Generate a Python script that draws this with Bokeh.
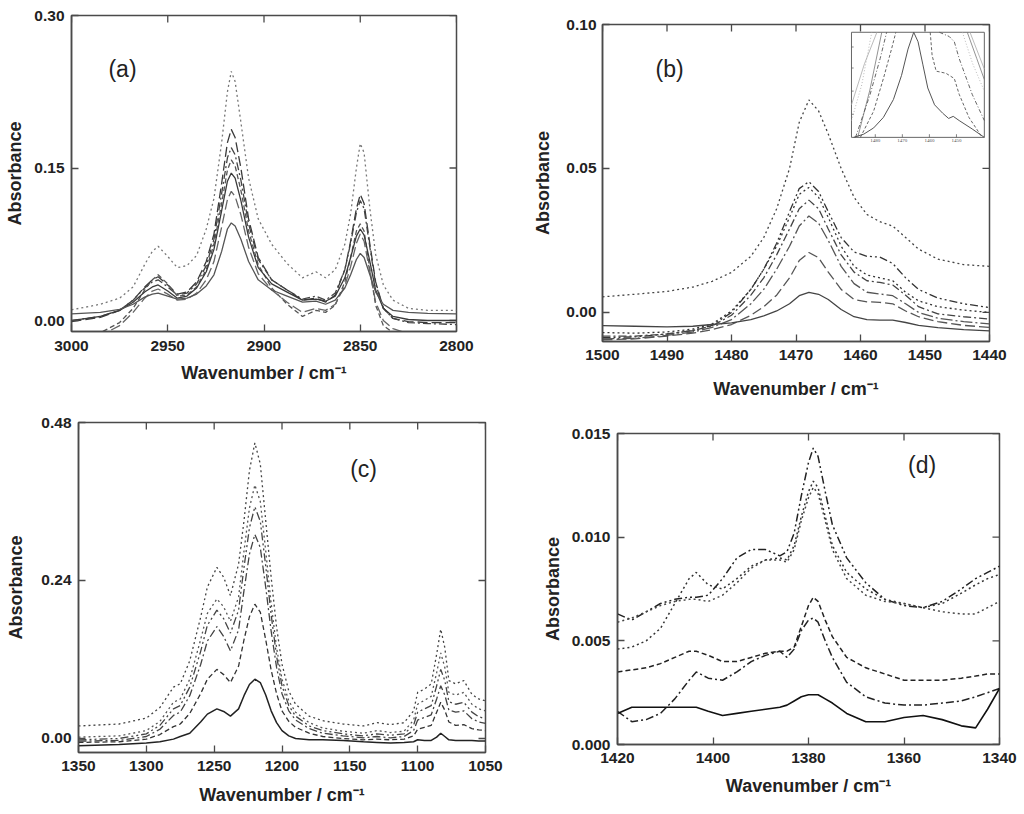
import numpy as np
from bokeh.plotting import figure
from bokeh.layouts import column, row
from bokeh.models import Range1d, FixedTicker, PrintfTickFormatter, Label
from bokeh.embed import file_html
from bokeh.resources import INLINE

# ---------------- datos ----------------

# (a) region C-H stretching
wn_a = [3000, 2985, 2975, 2968, 2962, 2958, 2955, 2950, 2945, 2940, 2935, 2930, 2926,
        2922, 2919, 2917, 2915, 2912, 2908, 2903, 2896, 2888, 2880, 2873, 2868, 2863,
        2858, 2855, 2852, 2850, 2848, 2845, 2842, 2838, 2833, 2825, 2815, 2800]
a1 = [0.0105, 0.016, 0.022, 0.033, 0.055, 0.068, 0.073, 0.063, 0.052, 0.054, 0.064, 0.090, 0.120,
      0.175, 0.225, 0.245, 0.235, 0.195, 0.140, 0.100, 0.075, 0.056, 0.042, 0.048, 0.042, 0.050,
      0.075, 0.105, 0.150, 0.174, 0.165, 0.110, 0.065, 0.035, 0.020, 0.012, 0.010, 0.010]
a2 = [-0.001, 0.003, 0.010, 0.020, 0.033, 0.040, 0.043, 0.035, 0.026, 0.028, 0.038, 0.058, 0.085,
      0.135, 0.175, 0.188, 0.180, 0.150, 0.100, 0.062, 0.040, 0.030, 0.020, 0.022, 0.018, 0.025,
      0.050, 0.078, 0.110, 0.124, 0.115, 0.075, 0.038, 0.012, 0.002, -0.001, -0.002, -0.002]
a3 = [0.000, 0.004, 0.010, 0.020, 0.032, 0.038, 0.040, 0.033, 0.025, 0.027, 0.036, 0.054, 0.080,
      0.125, 0.160, 0.170, 0.163, 0.138, 0.095, 0.060, 0.040, 0.030, 0.021, 0.024, 0.020, 0.027,
      0.050, 0.076, 0.106, 0.118, 0.110, 0.072, 0.036, 0.012, 0.002, -0.002, -0.003, -0.004]
a4 = [-0.016, -0.012, -0.002, 0.012, 0.030, 0.040, 0.045, 0.036, 0.024, 0.025, 0.033, 0.050, 0.075,
      0.115, 0.148, 0.158, 0.152, 0.128, 0.088, 0.055, 0.032, 0.016, 0.004, 0.010, 0.008, 0.015,
      0.038, 0.062, 0.088, 0.095, 0.088, 0.050, 0.015, -0.005, -0.012, -0.018, -0.020, -0.022]
a5 = [0.000, 0.004, 0.010, 0.018, 0.028, 0.033, 0.035, 0.029, 0.022, 0.024, 0.032, 0.048, 0.070,
      0.108, 0.137, 0.145, 0.140, 0.118, 0.082, 0.052, 0.036, 0.028, 0.020, 0.021, 0.019, 0.024,
      0.042, 0.062, 0.083, 0.090, 0.084, 0.058, 0.030, 0.012, 0.004, 0.001, 0.000, 0.000]
a6 = [-0.022, -0.015, -0.005, 0.008, 0.022, 0.029, 0.031, 0.026, 0.020, 0.021, 0.027, 0.040, 0.058,
      0.092, 0.119, 0.127, 0.122, 0.104, 0.072, 0.046, 0.030, 0.018, 0.008, 0.012, 0.010, 0.016,
      0.034, 0.053, 0.076, 0.085, 0.078, 0.048, 0.018, 0.000, -0.008, -0.013, -0.016, -0.018]
a7 = [0.0066, 0.008, 0.011, 0.016, 0.023, 0.026, 0.027, 0.024, 0.021, 0.022, 0.026, 0.034, 0.045,
      0.068, 0.090, 0.096, 0.093, 0.080, 0.058, 0.040, 0.030, 0.024, 0.018, 0.019, 0.016, 0.020,
      0.032, 0.045, 0.060, 0.066, 0.062, 0.045, 0.028, 0.016, 0.010, 0.008, 0.007, 0.0066]

# (b) CH2 scissoring
wn_b = [1500, 1495, 1490, 1486, 1483, 1480, 1477, 1475, 1473, 1471, 1469.5, 1468,
        1466.5, 1465, 1463, 1461, 1459, 1457, 1455, 1453, 1451, 1448, 1444, 1440]
b1 = [0.0054, 0.0063, 0.0073, 0.0088, 0.0108, 0.0139, 0.0195, 0.026, 0.036, 0.050, 0.066, 0.0738,
      0.070, 0.062, 0.050, 0.040, 0.034, 0.0315, 0.030, 0.026, 0.022, 0.0185, 0.0166, 0.016]
b2 = [-0.0088, -0.0085, -0.0075, -0.0063, -0.0045, 0.000, 0.008, 0.015, 0.024, 0.035, 0.043, 0.0454,
      0.042, 0.035, 0.026, 0.021, 0.0195, 0.0192, 0.017, 0.012, 0.008, 0.005, 0.003, 0.0017]
b3 = [-0.0070, -0.0072, -0.0068, -0.0058, -0.0040, 0.0005, 0.008, 0.015, 0.023, 0.033, 0.041, 0.0434,
      0.040, 0.033, 0.023, 0.016, 0.013, 0.012, 0.011, 0.007, 0.004, 0.0020, 0.0008, 0.0000]
b4 = [-0.0082, -0.0082, -0.0075, -0.0063, -0.0047, -0.0010, 0.006, 0.012, 0.020, 0.029, 0.036, 0.0390,
      0.036, 0.029, 0.020, 0.014, 0.011, 0.0104, 0.0095, 0.006, 0.002, -0.0005, -0.0015, -0.0023]
b5 = [-0.0092, -0.0090, -0.0080, -0.0068, -0.0052, -0.0025, 0.003, 0.008, 0.015, 0.023, 0.030, 0.0335,
      0.031, 0.025, 0.016, 0.010, 0.007, 0.0064, 0.0058, 0.003, 0.000, -0.002, -0.0032, -0.004]
b6 = [-0.0095, -0.0092, -0.0082, -0.0072, -0.0060, -0.0042, -0.0010, 0.002, 0.006, 0.012, 0.018, 0.0208,
      0.019, 0.014, 0.008, 0.0045, 0.0037, 0.0035, 0.003, 0.0005, -0.0015, -0.0032, -0.0045, -0.0052]
b7 = [-0.0046, -0.0048, -0.0050, -0.0048, -0.0042, -0.0036, -0.0025, -0.0012, 0.0005, 0.0030, 0.0058, 0.0070,
      0.0063, 0.0045, 0.0010, -0.0015, -0.0025, -0.0027, -0.0027, -0.0035, -0.0045, -0.0053, -0.0060, -0.0064]

# inserto de (b): espectros normalizados (nan = fuera del recuadro)
nan = np.nan
ins_solid_x = [1488.0, 1484.3, 1480.6, 1477.0, 1473.3, 1470.3, 1467.9, 1465.8, 1464.2, 1462.4,
               1460.6, 1458.1, 1455.1, 1452.9, 1451.2, 1449.0, 1444.2, 1439.7]
ins_solid_y = [0.00, 0.03, 0.09, 0.19, 0.36, 0.59, 0.84, 1.00, 0.91, 0.69,
               0.47, 0.31, 0.23, 0.18, 0.20, 0.16, 0.08, 0.00]
ins_dash_x = [1485.5, 1480.6, 1477.0, 1474.0, 1472.4, nan, 1459.7, 1459.0, 1457.5, 1453.9, 1450.8, 1449.0, 1445.4, 1440.5]
ins_dash_y = [0.00, 0.25, 0.56, 0.84, 1.00, nan, 1.00, 0.78, 0.63, 0.61, 0.56, 0.41, 0.19, 0.00]
ins_dd_x = [1487.3, 1481.9, 1478.2, 1475.8, nan, 1456.3, 1452.7, 1450.8, 1449.0, 1444.2, 1439.7]
ins_dd_y = [0.00, 0.41, 0.75, 1.00, nan, 1.00, 0.96, 0.91, 0.75, 0.41, 0.16]
ins_dark_x = [1486.5, 1482.0, 1477.6, nan, 1446.0, 1442.5, 1439.7]
ins_dark_y = [0.00, 0.45, 1.00, nan, 1.00, 0.75, 0.55]
ins_grey1_x = [1488.8, 1485.0, 1481.3, nan, 1447.8, 1444.0, 1439.7]
ins_grey1_y = [0.16, 0.50, 1.00, nan, 1.00, 0.70, 0.44]
ins_grey2_x = [1488.8, 1484.0, 1479.4, nan, 1445.0, 1439.7]
ins_grey2_y = [0.31, 0.70, 1.00, nan, 1.00, 0.65]
ins_xticks = [1480, 1470, 1460, 1450]
ins_yticks = [0.22, 0.44, 0.66, 0.86]

# (c) region 1350-1050
wn_c = [1350, 1320, 1300, 1290, 1280, 1275, 1268, 1260, 1255, 1248, 1243, 1238, 1232, 1228, 1224,
        1220, 1216, 1212, 1208, 1204, 1200, 1195, 1190, 1180, 1170, 1155, 1140, 1130, 1120, 1110,
        1103, 1100, 1095, 1090, 1086, 1083, 1080, 1077, 1072, 1066, 1060, 1055, 1050]
c1 = [0.019, 0.022, 0.031, 0.047, 0.078, 0.083, 0.118, 0.184, 0.230, 0.260, 0.245, 0.217, 0.265, 0.331, 0.407,
      0.449, 0.417, 0.331, 0.245, 0.169, 0.113, 0.072, 0.052, 0.034, 0.027, 0.022, 0.019, 0.024, 0.021, 0.024,
      0.042, 0.070, 0.075, 0.083, 0.128, 0.166, 0.138, 0.088, 0.083, 0.088, 0.067, 0.060, 0.057]
c2 = [0.002, 0.004, 0.012, 0.026, 0.055, 0.060, 0.090, 0.150, 0.190, 0.212, 0.200, 0.178, 0.215, 0.285, 0.350,
      0.385, 0.360, 0.285, 0.205, 0.138, 0.090, 0.057, 0.040, 0.024, 0.016, 0.011, 0.008, 0.012, 0.009, 0.011,
      0.028, 0.052, 0.058, 0.064, 0.100, 0.130, 0.108, 0.070, 0.066, 0.070, 0.052, 0.045, 0.042]
c3 = [-0.002, 0.000, 0.007, 0.020, 0.045, 0.050, 0.078, 0.132, 0.172, 0.195, 0.182, 0.160, 0.195, 0.260, 0.320,
      0.352, 0.330, 0.262, 0.188, 0.125, 0.080, 0.050, 0.034, 0.019, 0.012, 0.007, 0.004, 0.007, 0.005, 0.007,
      0.020, 0.040, 0.045, 0.050, 0.080, 0.105, 0.088, 0.056, 0.052, 0.055, 0.040, 0.033, 0.030]
c4 = [-0.004, -0.003, 0.003, 0.014, 0.035, 0.040, 0.065, 0.112, 0.148, 0.170, 0.155, 0.133, 0.165, 0.225, 0.280,
      0.310, 0.290, 0.230, 0.163, 0.108, 0.068, 0.042, 0.028, 0.015, 0.008, 0.004, 0.001, 0.003, 0.001, 0.003,
      0.012, 0.028, 0.032, 0.036, 0.060, 0.080, 0.066, 0.043, 0.040, 0.042, 0.030, 0.025, 0.023]
c5 = [-0.006, -0.005, -0.001, 0.006, 0.018, 0.022, 0.038, 0.068, 0.090, 0.105, 0.097, 0.085, 0.110, 0.150, 0.185,
      0.204, 0.192, 0.150, 0.104, 0.068, 0.042, 0.026, 0.017, 0.008, 0.003, 0.000, -0.002, -0.001, -0.002, -0.001,
      0.004, 0.014, 0.017, 0.020, 0.040, 0.055, 0.043, 0.025, 0.020, 0.021, 0.015, 0.013, 0.012]
c6 = [-0.011, -0.009, -0.007, -0.005, -0.001, 0.003, 0.008, 0.025, 0.037, 0.045, 0.041, 0.034, 0.045, 0.065, 0.082,
      0.090, 0.085, 0.066, 0.042, 0.024, 0.012, 0.004, 0.000, -0.002, -0.002, -0.003, -0.005, -0.006, -0.007, -0.006,
      -0.005, -0.002, -0.003, -0.003, 0.002, 0.008, 0.003, -0.002, -0.003, -0.003, -0.003, -0.004, -0.004]

# (d) region 1420-1340
wn_d = [1420, 1417, 1414, 1411, 1408, 1405, 1403.5, 1401, 1398, 1395, 1392, 1389, 1386, 1384.5, 1383,
        1381.5, 1380, 1379, 1378, 1376.5, 1375, 1372, 1368, 1364, 1360, 1356, 1352, 1348, 1345, 1342.5, 1340]
d1 = [0.0063, 0.0060, 0.0064, 0.0068, 0.0070, 0.0071, 0.0071, 0.0072, 0.0080, 0.0090, 0.0094, 0.0094, 0.0091, 0.0093, 0.0102,
      0.0120, 0.0136, 0.0143, 0.0139, 0.0122, 0.0106, 0.0090, 0.0078, 0.0070, 0.0067, 0.0066, 0.0069, 0.0075, 0.0080, 0.0083, 0.0086]
d2 = [0.0046, 0.0047, 0.0050, 0.0056, 0.0068, 0.0080, 0.0083, 0.0077, 0.0075, 0.0080, 0.0086, 0.0089, 0.0090, 0.0089, 0.0096,
      0.0110, 0.0122, 0.0127, 0.0124, 0.0110, 0.0096, 0.0083, 0.0075, 0.0070, 0.0068, 0.0066, 0.0068, 0.0073, 0.0077, 0.0080, 0.0082]
d3 = [0.0059, 0.0061, 0.0064, 0.0067, 0.0069, 0.0070, 0.0070, 0.0069, 0.0072, 0.0078, 0.0085, 0.0089, 0.0089, 0.0088, 0.0094,
      0.0108, 0.0119, 0.0124, 0.0121, 0.0108, 0.0094, 0.0080, 0.0072, 0.0069, 0.0068, 0.0066, 0.0064, 0.0063, 0.0063, 0.0066, 0.0069]
d4 = [0.0035, 0.0036, 0.0037, 0.0039, 0.0042, 0.0045, 0.0045, 0.0043, 0.0040, 0.0040, 0.0042, 0.0044, 0.0045, 0.0045, 0.0047,
      0.0057, 0.0067, 0.0071, 0.0069, 0.0060, 0.0052, 0.0042, 0.0037, 0.0034, 0.0031, 0.0031, 0.0031, 0.0032, 0.0033, 0.0034, 0.0034]
d5 = [0.0016, 0.0011, 0.0012, 0.0015, 0.0022, 0.0031, 0.0035, 0.0032, 0.0031, 0.0035, 0.0040, 0.0043, 0.0045, 0.0042, 0.0046,
      0.0055, 0.0060, 0.0061, 0.0059, 0.0050, 0.0042, 0.0030, 0.0023, 0.0020, 0.0019, 0.0019, 0.0020, 0.0021, 0.0023, 0.0025, 0.0027]
d6 = [0.0015, 0.0018, 0.0018, 0.0018, 0.0018, 0.0018, 0.0018, 0.0016, 0.0014, 0.0015, 0.0016, 0.0017, 0.0018, 0.0019, 0.0021,
      0.0023, 0.0024, 0.0024, 0.0024, 0.0022, 0.0020, 0.0015, 0.0011, 0.0011, 0.0013, 0.0014, 0.0012, 0.0009, 0.0008, 0.0017, 0.0027]

# ---------------- estilos ----------------
FONT = "Liberation Sans"
FRAME = "#4a4a4a"
DOT, SDASH, LDASH = "2 3", "5 3", "10 4"
DASHDOT, DASHDOTDOT = "8 3 2 3", "8 3 2 3 2 3"


def panel(width, height, xr, yr, xticks, yticks, yfmt, borders, std):
    left, right, top, bottom = borders
    p = figure(width=width, height=height, x_range=Range1d(*xr), y_range=Range1d(*yr),
               output_backend="svg", toolbar_location=None, frame_align=False,
               min_border_left=left, min_border_right=right,
               min_border_top=top, min_border_bottom=bottom)
    p.grid.visible = False
    p.outline_line_color = FRAME
    p.outline_line_width = 1.5
    p.background_fill_color = "white"
    p.border_fill_color = "white"

    p.xaxis.ticker = FixedTicker(ticks=xticks)
    p.xaxis.formatter = PrintfTickFormatter(format="%d")
    p.yaxis.ticker = FixedTicker(ticks=yticks)
    p.yaxis.formatter = PrintfTickFormatter(format=yfmt)
    for ax in p.xaxis + p.yaxis:
        ax.axis_line_color = FRAME
        ax.axis_line_width = 1.5
        ax.major_tick_in = 7
        ax.major_tick_out = 0
        ax.major_tick_line_color = FRAME
        ax.major_tick_line_width = 1.3
        ax.minor_tick_line_color = None
        ax.major_label_text_font = FONT
        ax.major_label_text_font_style = "bold"
        ax.major_label_text_font_size = "15.5px"
        ax.major_label_text_color = "#222222"
        ax.axis_label_text_font = FONT
        ax.axis_label_text_font_style = "bold"
        ax.axis_label_text_font_size = "18px"
        ax.axis_label_text_color = "#222222"
    p.xaxis.axis_label = "Wavenumber / cm\u207b\u00b9"
    p.yaxis.axis_label = "Absorbance"
    p.xaxis.major_label_standoff = std[0]
    p.xaxis.axis_label_standoff = std[1]
    p.yaxis.major_label_standoff = std[2]
    p.yaxis.axis_label_standoff = std[3]

    # marcas espejo arriba y a la derecha (hacia dentro)
    p.scatter(xticks, [yr[1]] * len(xticks), marker="dash", angle=np.pi / 2, size=14,
              line_color=FRAME, line_width=1.3)
    p.scatter([xr[1]] * len(yticks), yticks, marker="dash", size=14,
              line_color=FRAME, line_width=1.3)
    return p


def tag(p, x, y, txt):
    p.add_layout(Label(x=x, y=y, text=txt, text_font=FONT, text_font_size="23px",
                       text_align="center", text_baseline="middle", text_color="#222222"))


def curva(p, x, y, dash, color, width=1.3):
    p.line(x, y, line_dash=dash, line_color=color, line_width=width)


# (a)
pa = panel(508, 404, (3000, 2800), (-0.0108, 0.30), [3000, 2950, 2900, 2850, 2800],
           [0.0, 0.15, 0.30], "%.2f", (71, 52, 15, 73), (9, 9, 7, 6))
curva(pa, wn_a, a1, DOT, "#777777")
curva(pa, wn_a, a2, LDASH, "#3a3a3a")
curva(pa, wn_a, a3, DASHDOT, "#444444")
curva(pa, wn_a, a4, SDASH, "#555555")
curva(pa, wn_a, a5, "solid", "#3a3a3a")
curva(pa, wn_a, a6, LDASH, "#666666")
curva(pa, wn_a, a7, "solid", "#555555")
tag(pa, 2973.5, 0.247, "(a)")

# (b)
pb = panel(516, 404, (1500, 1440), (-0.0101, 0.10), [1500, 1490, 1480, 1470, 1460, 1450, 1440],
           [0.0, 0.05, 0.10], "%.2f", (94, 35, 24, 63), (8, 16, 6, 10))
curva(pb, wn_b, b1, DOT, "#444444")
curva(pb, wn_b, b2, DASHDOTDOT, "#333333")
curva(pb, wn_b, b3, DOT, "#333333")
curva(pb, wn_b, b4, DASHDOT, "#444444")
curva(pb, wn_b, b5, "12 3 2 3", "#555555")
curva(pb, wn_b, b6, LDASH, "#555555")
curva(pb, wn_b, b7, "solid", "#444444")
tag(pb, 1489.6, 0.0844, "(b)")

# inserto dentro de (b)
ins_xr = (1488.8, 1439.7)
ins_yr = (0.0, 1.0)
ins = pb.subplot(x_source=Range1d(*ins_xr), y_source=Range1d(*ins_yr),
                 x_target=Range1d(1461.4, 1440.8), y_target=Range1d(0.0608, 0.0973))
ins.quad(left=[ins_xr[0]], right=[ins_xr[1]], bottom=[ins_yr[0]], top=[ins_yr[1]],
         fill_color="white", line_color="#666666", line_width=1)
ins.line(ins_grey1_x, ins_grey1_y, line_color="#aaaaaa", line_width=0.8, line_dash="1 2")
ins.line(ins_grey2_x, ins_grey2_y, line_color="#aaaaaa", line_width=0.8)
ins.line(ins_dark_x, ins_dark_y, line_color="#777777", line_width=0.8)
ins.line(ins_dd_x, ins_dd_y, line_color="#555555", line_width=0.9, line_dash="4 2 1 2")
ins.line(ins_dash_x, ins_dash_y, line_color="#555555", line_width=0.9, line_dash="3 2")
ins.line(ins_solid_x, ins_solid_y, line_color="#555555", line_width=1)
ins.segment(x0=ins_xticks, y0=[ins_yr[0]] * 4, x1=ins_xticks, y1=[0.03] * 4,
            line_color="#666666", line_width=0.8)
ins.segment(x0=[ins_xr[0]] * 4, y0=ins_yticks, x1=[ins_xr[0] - 0.8] * 4, y1=ins_yticks,
            line_color="#666666", line_width=0.8)
ins.text(x=ins_xticks, y=[-0.02] * 4, text=[str(t) for t in ins_xticks],
         text_font=FONT, text_font_size="5px", text_align="center", text_baseline="top",
         text_color="#555555")

# (c)
pc = panel(508, 410, (1350, 1050), (-0.0213, 0.48), [1350, 1300, 1250, 1200, 1150, 1100, 1050],
           [0.0, 0.24, 0.48], "%.2f", (78, 23, 18, 62), (8, 11, 7, 12))
curva(pc, wn_c, c1, DOT, "#444444")
curva(pc, wn_c, c2, DOT, "#555555")
curva(pc, wn_c, c3, DASHDOTDOT, "#444444")
curva(pc, wn_c, c4, DASHDOT, "#444444")
curva(pc, wn_c, c5, SDASH, "#333333")
curva(pc, wn_c, c6, "solid", "#222222", 1.5)
tag(pc, 1139.9, 0.410, "(c)")

# (d)
pd = panel(516, 410, (1420, 1340), (0.0, 0.015), [1420, 1400, 1380, 1360, 1340],
           [0.0, 0.005, 0.010, 0.015], "%.3f", (109, 25, 29, 70), (8, 10, 7, 6))
curva(pd, wn_d, d1, DASHDOTDOT, "#222222", 1.5)
curva(pd, wn_d, d2, DOT, "#333333", 1.5)
curva(pd, wn_d, d3, DOT, "#444444", 1.5)
curva(pd, wn_d, d4, SDASH, "#222222", 1.5)
curva(pd, wn_d, d5, DASHDOT, "#222222", 1.5)
curva(pd, wn_d, d6, "solid", "#111111", 1.6)
tag(pd, 1356.2, 0.01347, "(d)")

layout = column(row(pa, pb), row(pc, pd))
open("out.html", "w").write(file_html(layout, INLINE))
